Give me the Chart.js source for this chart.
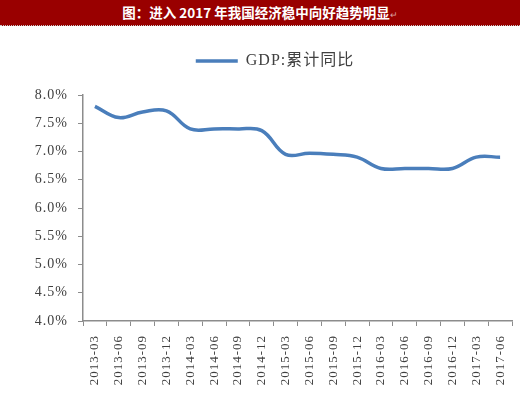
<!DOCTYPE html>
<html>
<head>
<meta charset="utf-8">
<script src="https://cdn.jsdelivr.net/npm/chart.js@4/dist/chart.umd.min.js"></script>
<style>
  html, body { margin: 0; padding: 0; background: #fff; }
  #wrap { position: relative; width: 520px; height: 397px; overflow: hidden; }
  #title {
    position: absolute; left: 0; top: 0; width: 520px; height: 25px;
    background: #990000; color: #fff; text-align: center;
    font: bold 13.5px "Noto Sans CJK SC", sans-serif; line-height: 25px;
    border-bottom: 1px dotted #c8c8c8;
  }
  #title span { color: #d9a0a0; font-size: 9px; font-weight: normal; }
  canvas { position: absolute; left: 0; top: 0; }
</style>
</head>
<body>
<div id="wrap">
  <canvas id="c" width="520" height="397"></canvas>
  <div id="title">图：进入 2017 年我国经济稳中向好趋势明显<span>↵</span></div>
</div>
<script>
const quarters = ['2013-03','2013-06','2013-09','2013-12','2014-03','2014-06','2014-09','2014-12',
  '2015-03','2015-06','2015-09','2015-12','2016-03','2016-06','2016-09','2016-12','2017-03','2017-06'];
const gdpYoY = [7.8, 7.6, 7.7, 7.72, 7.4, 7.4, 7.4, 7.37,
  6.95, 6.97, 6.95, 6.9, 6.7, 6.7, 6.7, 6.7, 6.9, 6.9];
const seriesName = 'GDP:累计同比';

const serif = "'Liberation Serif', 'Times New Roman', 'Noto Sans CJK SC', serif";

// push the plot down below the legend, and nudge legend to the right
const legendGap = {
  id: 'legendGap',
  beforeInit(chart){
    const fit = chart.legend.fit;
    chart.legend.fit = function(){ fit.bind(chart.legend)(); this.height += 16; };
  },
  afterLayout(chart){
    chart.legend.left += 15;
    chart.legend.right += 15;
  }
};
const spacing = {
  id: 'spacing',
  beforeDraw(chart){ chart.ctx.letterSpacing = '1px'; }
};

new Chart(document.getElementById('c'), {
  type: 'line',
  data: {
    labels: quarters,
    datasets: [{
      label: seriesName,
      data: gdpYoY,
      borderColor: '#4a7ebb',
      backgroundColor: '#4a7ebb',
      borderWidth: 3.5,
      pointRadius: 0,
      tension: 0.4,
      fill: false
    }]
  },
  options: {
    responsive: false,
    animation: false,
    layout: { padding: { top: 26, right: 8, left: 0, bottom: 0 } },
    plugins: {
      legend: {
        labels: {
          usePointStyle: true, pointStyle: 'line', pointStyleWidth: 42,
          padding: 27, color: '#404040',
          font: { family: serif, size: 16 }
        }
      },
      tooltip: { enabled: false }
    },
    scales: {
      x: {
        offset: true,
        grid: { display: true, drawOnChartArea: false, offset: true, color: '#8c8c8c', tickLength: 5 },
        border: { color: '#8c8c8c', width: 1.5 },
        ticks: { color: '#404040', font: { family: serif, size: 13 }, minRotation: 90, maxRotation: 90, padding: 9, autoSkip: false },
        afterFit(s){ s.height = 76; s.paddingRight = 0; }
      },
      y: {
        min: 4, max: 8,
        grid: { display: true, drawOnChartArea: false, color: '#8c8c8c', tickLength: 5 },
        border: { color: '#8c8c8c', width: 1.5 },
        ticks: { stepSize: 0.5, color: '#404040', padding: 10, font: { family: serif, size: 14 },
          callback: v => v.toFixed(1) + '%' },
        afterFit(s){ s.width = 83; }
      }
    }
  },
  plugins: [legendGap, spacing]
});
</script>
</body>
</html>
